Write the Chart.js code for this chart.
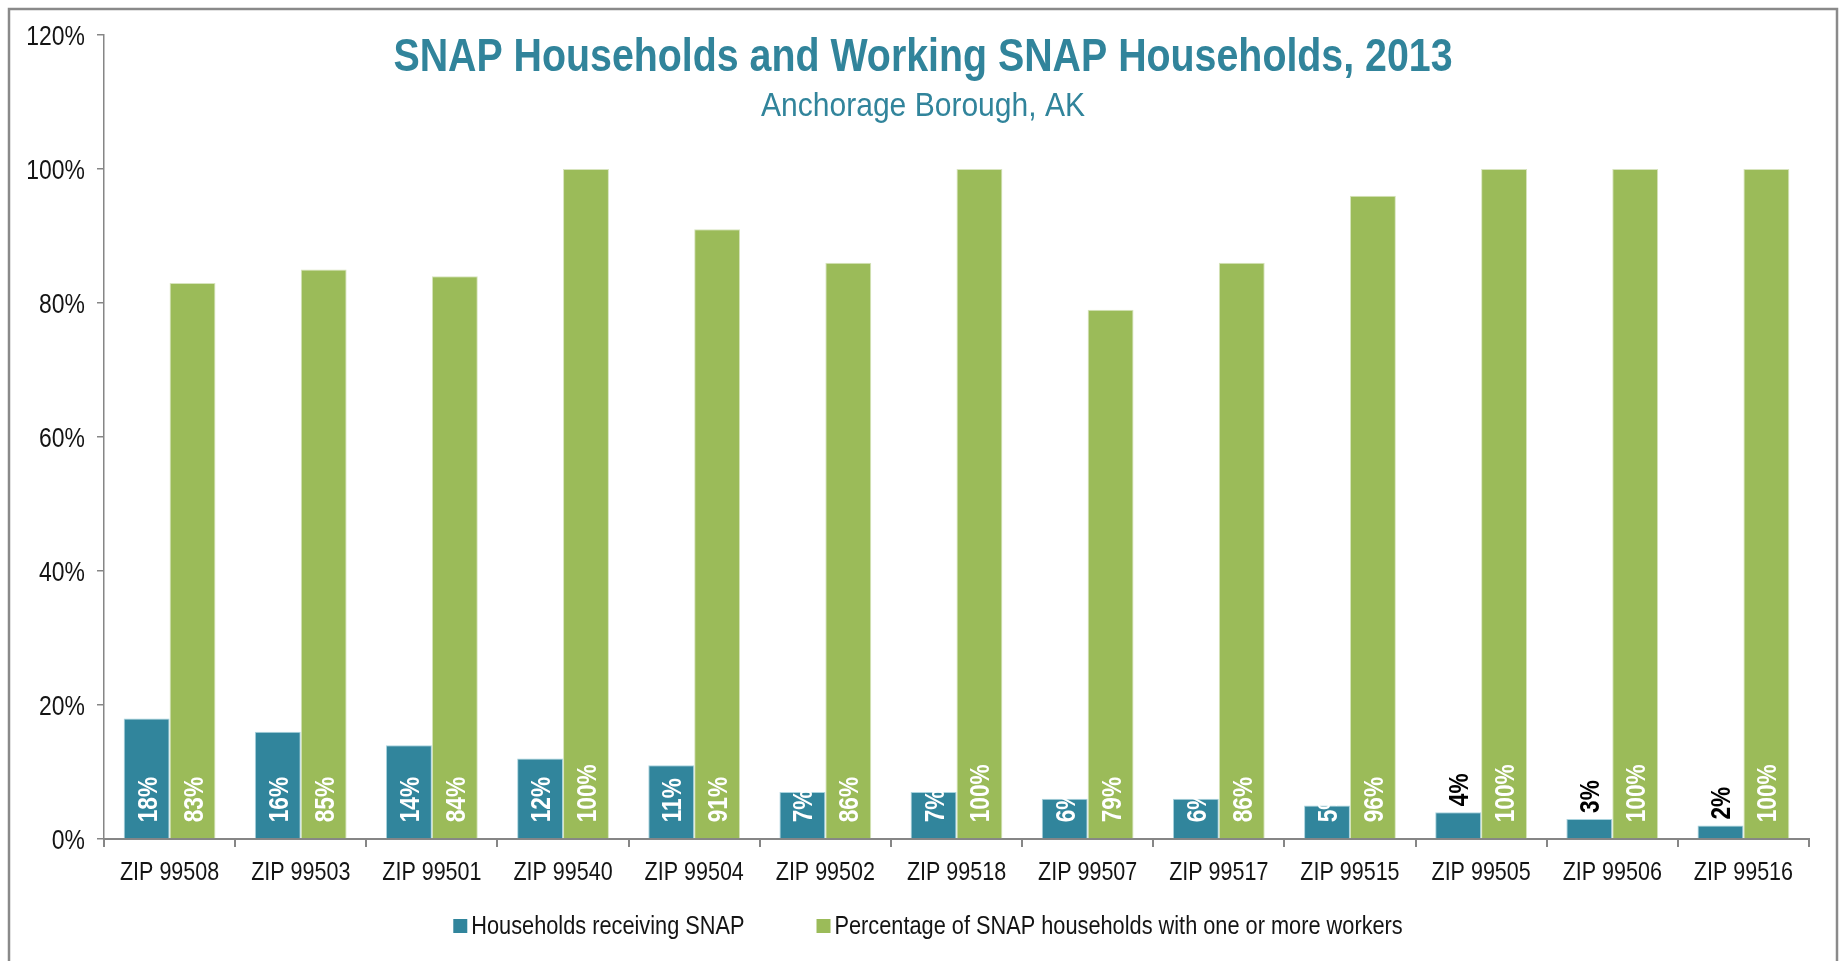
<!DOCTYPE html>
<html>
<head>
<meta charset="utf-8">
<title>SNAP Households and Working SNAP Households, 2013</title>
<script src="https://cdn.jsdelivr.net/npm/chart.js@4.4.1/dist/chart.umd.min.js"></script>
<style>
  html, body { margin: 0; padding: 0; background: #fff; }
  #chart { display: block; }
</style>
</head>
<body>
<canvas id="chart" width="1843" height="961"></canvas>
<script>
  // Anchorage Borough SNAP data (percent)
  const zipCodes = ['ZIP 99508', 'ZIP 99503', 'ZIP 99501', 'ZIP 99540', 'ZIP 99504', 'ZIP 99502',
    'ZIP 99518', 'ZIP 99507', 'ZIP 99517', 'ZIP 99515', 'ZIP 99505', 'ZIP 99506', 'ZIP 99516'];
  const snapHouseholds = [18, 16, 14, 12, 11, 7, 7, 6, 6, 5, 4, 3, 2];
  const workingHouseholds = [83, 85, 84, 100, 91, 86, 100, 79, 86, 96, 100, 100, 100];
  const seriesNames = ['Households receiving SNAP', 'Percentage of SNAP households with one or more workers'];
  const yTicks = [0, 20, 40, 60, 80, 100, 120];

  // no narrow font installed, so Arial metrics squeezed horizontally
  const FONT = "'Liberation Sans', Arial, sans-serif";
  const TEAL = '#31859C';
  const GREEN = '#9BBB59';
  const AXIS = '#868686';
  const TEXT = '#141414';

  function narrowText(ctx, text, x, y, sx) {
    ctx.save();
    ctx.translate(x, y);
    ctx.scale(sx, 1);
    ctx.fillText(text, 0, 0);
    ctx.restore();
  }

  // border, titles, axis labels and legend
  const decorations = {
    id: 'decorations',
    beforeDraw(chart) {
      const ctx = chart.ctx;
      ctx.save();
      ctx.strokeStyle = '#8a8a8a';
      ctx.lineWidth = 2.5;
      ctx.strokeRect(9, 9, 1828, 1000);
      ctx.restore();
    },
    afterDraw(chart) {
      const ctx = chart.ctx;
      const { x: xs, y: ys } = chart.scales;
      ctx.save();

      // titles
      ctx.fillStyle = '#31849B';
      ctx.textAlign = 'center';
      ctx.textBaseline = 'alphabetic';
      ctx.font = 'bold 46px ' + FONT;
      narrowText(ctx, 'SNAP Households and Working SNAP Households, 2013', 923, 71, 0.855);
      ctx.font = '33px ' + FONT;
      narrowText(ctx, 'Anchorage Borough, AK', 923, 116, 0.91);

      // y tick labels
      ctx.fillStyle = TEXT;
      ctx.font = '27px ' + FONT;
      ctx.textAlign = 'right';
      ys.ticks.forEach(t => {
        narrowText(ctx, t.value + '%', ys.right - 19, ys.getPixelForValue(t.value) + 10, 0.85);
      });

      // x category labels
      ctx.font = '25px ' + FONT;
      ctx.textAlign = 'center';
      chart.data.labels.forEach((lab, i) => {
        narrowText(ctx, lab, xs.getPixelForTick(i), 880, 0.86);
      });

      // legend
      ctx.font = '25px ' + FONT;
      ctx.textAlign = 'left';
      const box = 14, gapText = 4, gapItem = 72, y = 926, sx = 0.87;
      const widths = chart.data.datasets.map(ds => box + gapText + ctx.measureText(ds.label).width * sx);
      let x = 928 - (widths[0] + widths[1] + gapItem) / 2;
      chart.data.datasets.forEach((ds, i) => {
        ctx.fillStyle = ds.backgroundColor;
        ctx.fillRect(x, y - box / 2, box, box);
        ctx.fillStyle = TEXT;
        narrowText(ctx, ds.label, x + box + gapText, y + 8, sx);
        x += widths[i] + gapItem;
      });
      ctx.restore();
    }
  };

  // rotated value labels (inside base, or above the bar when too short)
  const barLabels = {
    id: 'barLabels',
    afterDatasetsDraw(chart) {
      const ctx = chart.ctx;
      ctx.save();
      ctx.font = 'bold 27px ' + FONT;
      ctx.textAlign = 'left';
      ctx.textBaseline = 'alphabetic';
      chart.data.datasets.forEach((ds, di) => {
        const meta = chart.getDatasetMeta(di);
        meta.data.forEach((bar, i) => {
          const v = ds.data[i];
          const outside = v <= 4;
          const y0 = outside ? bar.y - 6 : bar.base - 16;
          ctx.save();
          ctx.translate(bar.x, y0);
          ctx.rotate(-Math.PI / 2);
          ctx.scale(0.84, 1);
          ctx.fillStyle = outside ? '#000' : '#fff';
          ctx.fillText(v + '%', 0, 10);
          ctx.restore();
        });
      });
      ctx.restore();
    }
  };

  new Chart(document.getElementById('chart'), {
    type: 'bar',
    data: {
      labels: zipCodes,
      datasets: [
        {
          label: seriesNames[0],
          data: snapHouseholds,
          backgroundColor: TEAL,
          borderColor: '#A9D3DE',
          borderWidth: 1
        },
        {
          label: seriesNames[1],
          data: workingHouseholds,
          backgroundColor: GREEN,
          borderColor: '#D7E4BD',
          borderWidth: 1
        }
      ]
    },
    options: {
      responsive: false,
      animation: false,
      layout: { padding: { left: 24, right: 34, top: 35, bottom: 78 } },
      datasets: {
        bar: { categoryPercentage: 0.70, barPercentage: 1.0 }
      },
      plugins: {
        legend: { display: false },
        title: { display: false },
        tooltip: { enabled: false }
      },
      scales: {
        x: {
          grid: { offset: true, drawOnChartArea: false, drawTicks: true, tickLength: 8, color: AXIS, lineWidth: 2 },
          border: { display: true, color: AXIS, width: 2 },
          ticks: { display: false, autoSkip: false },
          afterFit(scale) { scale.height = 44; }
        },
        y: {
          min: 0,
          max: 120,
          afterBuildTicks(scale) { scale.ticks = yTicks.map(v => ({ value: v })); },
          grid: { drawOnChartArea: false, drawTicks: true, tickLength: 7, color: AXIS, lineWidth: 1.5 },
          border: { display: true, color: AXIS, width: 1.5 },
          ticks: { display: false },
          afterFit(scale) { scale.width = 80; }
        }
      }
    },
    plugins: [decorations, barLabels]
  });
</script>
</body>
</html>
